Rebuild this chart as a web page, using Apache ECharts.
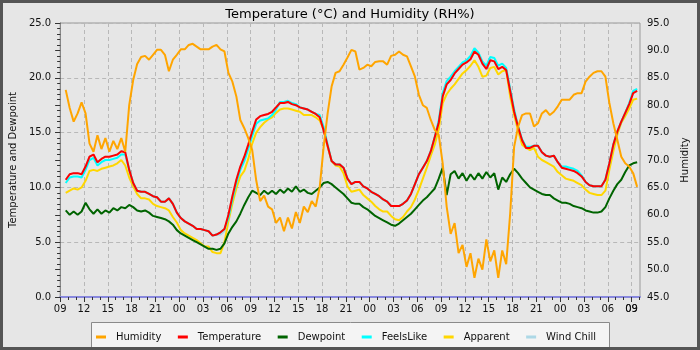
<!DOCTYPE html>
<html>
<head>
<meta charset="utf-8">
<title>Temperature and Humidity</title>
<script src="https://cdn.jsdelivr.net/npm/echarts@6/dist/echarts.min.js"></script>
<style>
  html, body { margin: 0; padding: 0; background: #e6e6e6; }
  #chart { width: 700px; height: 350px; }
</style>
</head>
<body>
<div id="chart"></div>
<script>
// Readings every half hour, hours counted from 09:00 on the first day
const startHour = 0.7;
const stepHours = 0.5;
const axisEndHour = 73.06;

const hourLabels = ['09','12','15','18','21','00','03','06','09','12','15','18','21','00','03','06','09','12','15','18','21','00','03','06','09'];
const tickHours = hourLabels.map((_, i) => i * 3);
const seriesNames = ['Humidity', 'Temperature', 'Dewpoint', 'FeelsLike', 'Apparent', 'Wind Chill'];

const humidity = [82.8,79.5,77,78.5,80.5,78.5,73,71.5,74.5,72,
  74,71.5,73.5,72,74,71.5,80,84.6,87.5,88.8,
  89,88.3,89.2,90.1,90.1,89.2,86.2,88.3,89.2,90.2,
  90.2,91,91.2,90.7,90.2,90.2,90.2,90.7,91,90.2,
  89.8,85.9,84.3,81.6,77.3,75.8,74,71.8,66.3,62.5,
  63.5,61.5,61,58.5,59.5,57,59.5,57.5,60.5,58.5,
  61.5,60.5,62.5,61.5,65,72.4,78.5,83.4,85.9,86.2,
  87.4,88.7,90.1,89.8,86.5,86.8,87.4,87.1,87.9,88,
  88,87.4,89,89.2,89.8,89.2,88.9,87.1,85.2,81.9,
  80,79.5,77.3,75.5,74.6,69.4,61.5,56.5,58.5,53,
  54.5,50.5,53,48.5,52,50,55.5,51.5,53.5,48.5,
  53.5,51,60.2,72.4,76.1,78.2,78.5,78.5,76.1,76.7,
  78.5,79.1,78.2,78.8,79.8,81,81,81,81.9,82.2,
  82.2,84.3,85.2,85.9,86.2,86.2,85.2,80.4,76.7,73.7,
  70.6,69.4,68.8,67.6,65.1];

const temperature = [10.7,11.2,11.3,11.3,11.2,11.9,12.8,13.0,12.3,12.6,
  12.8,12.8,12.9,13.0,13.3,13.2,11.6,10.4,9.7,9.6,
  9.6,9.4,9.2,9.1,8.7,8.7,9.0,8.5,7.7,7.2,
  6.9,6.7,6.5,6.2,6.2,6.1,6.0,5.6,5.7,5.9,
  6.2,7.5,9.2,10.7,11.9,12.8,13.9,15.1,16.2,16.5,
  16.6,16.7,16.9,17.3,17.7,17.7,17.8,17.6,17.5,17.3,
  17.2,17.1,16.9,16.7,16.4,15.2,13.8,12.4,12.1,12.1,
  11.8,10.8,10.3,10.5,10.5,10.1,9.9,9.6,9.4,9.2,
  8.9,8.7,8.3,8.3,8.3,8.5,8.8,9.4,10.3,11.2,
  11.8,12.4,13.3,14.6,15.9,18.3,19.4,19.8,20.4,20.8,
  21.2,21.4,21.7,22.4,22.1,21.3,20.8,21.6,21.5,20.8,
  21.0,20.7,18.8,16.9,15.5,14.3,13.6,13.6,13.8,13.8,
  13.2,12.9,12.8,12.9,12.3,11.8,11.7,11.6,11.5,11.3,
  11.0,10.5,10.2,10.1,10.1,10.1,10.7,12.2,13.9,15.1,
  16.0,16.8,17.6,18.6,18.8];

const dewpoint = [7.9,7.5,7.8,7.5,7.8,8.6,8.0,7.6,8.0,7.6,
  7.9,7.7,8.1,7.9,8.2,8.1,8.4,8.2,7.9,7.8,
  7.9,7.7,7.4,7.3,7.2,7.1,6.9,6.6,6.1,5.8,
  5.6,5.4,5.2,5.0,4.8,4.6,4.4,4.4,4.3,4.4,
  4.9,5.8,6.4,6.9,7.6,8.4,9.1,9.7,9.5,9.3,
  9.7,9.4,9.7,9.4,9.8,9.5,9.9,9.6,10.1,9.6,
  9.8,9.5,9.4,9.7,10.0,10.4,10.5,10.3,10.0,9.7,
  9.4,9.0,8.6,8.5,8.5,8.2,8.0,7.7,7.4,7.2,
  7.0,6.8,6.6,6.5,6.7,7.0,7.3,7.6,8.0,8.4,
  8.8,9.1,9.5,9.9,10.8,11.8,9.3,11.2,11.5,10.8,
  11.3,10.6,11.2,10.7,11.3,10.8,11.4,10.9,11.3,9.8,
  10.9,10.5,11.2,11.7,11.3,10.8,10.4,10.0,9.8,9.6,
  9.4,9.3,9.3,9.0,8.8,8.6,8.6,8.5,8.3,8.2,
  8.1,7.9,7.8,7.7,7.7,7.8,8.2,9.0,9.7,10.3,
  10.7,11.4,12.0,12.2,12.3];

const feelsLike = [10.4,10.9,11.0,11.0,10.9,11.6,12.5,12.7,12.0,12.3,
  12.5,12.5,12.6,12.7,13.0,13.0,11.6,10.4,9.7,9.6,
  9.6,9.4,9.2,9.1,8.7,8.7,9.0,8.5,7.7,7.2,
  6.9,6.7,6.5,6.2,6.2,6.1,6.0,5.6,5.7,5.9,
  6.2,7.2,8.9,10.4,11.6,12.4,13.5,14.7,15.8,16.1,
  16.2,16.3,16.6,17.1,17.8,17.8,17.9,17.7,17.6,17.3,
  17.2,17.1,16.9,16.7,16.6,15.5,13.9,12.4,12.1,12.1,
  11.8,10.8,10.3,10.5,10.5,10.1,9.9,9.6,9.4,9.2,
  8.9,8.7,8.3,8.3,8.3,8.5,8.8,9.4,10.3,11.2,
  11.8,12.4,13.3,14.6,16.1,18.6,19.7,20.1,20.6,21.0,
  21.4,21.6,22.0,22.7,22.3,21.5,21.1,21.9,21.8,21.1,
  21.3,20.9,19.0,17.1,15.6,14.4,13.7,13.7,13.8,13.8,
  13.2,12.9,12.8,12.9,12.3,11.9,11.9,11.8,11.7,11.5,
  11.1,10.5,10.2,10.1,10.1,10.1,10.7,12.2,13.9,15.1,
  16.0,16.8,17.7,18.8,19.0];

const apparent = [9.5,9.7,9.9,9.8,10.0,10.6,11.5,11.6,11.5,11.7,
  11.8,11.9,12.0,12.2,12.5,12.0,10.9,10.1,9.4,9.0,
  9.0,8.9,8.5,8.3,8.2,8.1,7.9,7.3,6.8,6.1,
  5.8,5.6,5.4,5.2,4.9,4.6,4.6,4.1,4.0,4.0,
  5.0,6.9,8.5,9.9,11.0,11.5,12.6,14.0,15.0,15.5,
  15.9,16.2,16.4,16.8,17.1,17.2,17.2,17.1,17.0,16.9,
  16.6,16.6,16.6,16.4,16.1,15.3,13.7,12.4,12.0,11.9,
  11.3,10.1,9.6,9.7,9.8,9.3,9.0,8.7,8.3,8.0,
  7.8,7.8,7.4,7.1,7.0,7.3,7.8,8.2,8.9,9.8,
  10.8,11.8,12.9,13.9,15.3,17.7,18.5,19.0,19.4,19.9,
  20.4,20.7,21.1,21.6,21.0,20.1,20.2,20.9,21.0,20.3,
  20.6,20.7,18.3,16.6,15.2,13.9,13.6,13.4,13.6,12.8,
  12.5,12.3,12.1,11.9,11.4,11.1,10.8,10.7,10.6,10.4,
  10.2,9.8,9.5,9.4,9.3,9.3,9.7,11.6,13.3,14.8,
  15.9,16.5,17.2,18.0,18.1];

const windChill = [10.7,11.2,11.3,11.3,11.2,11.9,12.8,13.0,12.3,12.6,
  12.8,12.8,12.9,13.0,13.3,13.2,11.6,10.4,9.7,9.6,
  9.6,9.4,9.2,9.1,8.7,8.7,9.0,8.5,7.7,7.2,
  6.9,6.7,6.5,6.2,6.2,6.1,6.0,5.6,5.7,5.7,
  6.0,7.5,9.2,10.7,11.9,12.8,13.9,15.1,16.2,16.5,
  16.6,16.7,16.9,17.3,17.7,17.7,17.8,17.6,17.5,17.3,
  17.2,17.1,16.9,16.7,16.4,15.2,13.8,12.4,12.1,12.1,
  11.8,10.8,10.3,10.5,10.5,10.1,9.9,9.6,9.4,9.2,
  8.9,8.7,8.3,8.3,8.3,8.5,8.8,9.4,10.3,11.2,
  11.8,12.4,13.3,14.6,15.9,18.3,19.4,19.8,20.4,20.8,
  21.2,21.4,21.7,22.4,22.1,21.3,20.8,21.6,21.5,20.8,
  21.0,20.7,18.8,16.9,15.5,14.3,13.6,13.6,13.8,13.8,
  13.2,12.9,12.8,12.9,12.3,11.8,11.7,11.6,11.5,11.3,
  11.0,10.5,10.2,10.1,10.1,10.1,10.7,12.2,13.9,15.1,
  16.0,16.8,17.6,18.6,18.8];

const colors = {
  'Humidity': '#ffa500',
  'Temperature': '#ff0000',
  'Dewpoint': '#006400',
  'FeelsLike': '#00ffff',
  'Apparent': '#ffd700',
  'Wind Chill': '#add8e6'
};

const FONT = 'DejaVu Sans';

function pairs(values) {
  return values.map((v, i) => [startHour + i * stepHours, v]);
}

function lineSeries(name, values, yAxisIndex) {
  return {
    name: name,
    type: 'line',
    xAxisIndex: 0,
    yAxisIndex: yAxisIndex,
    data: pairs(values),
    showSymbol: false,
    symbol: 'none',
    animation: false,
    itemStyle: { color: colors[name] },
    lineStyle: { color: colors[name], width: 2 },
    emphasis: { disabled: true }
  };
}

function hourLabel(v) {
  const idx = Math.round(v / 3);
  return hourLabels[idx] !== undefined ? hourLabels[idx] : '';
}

const labelStyle = { fontFamily: FONT, fontSize: 10, color: '#111' };

const chart = echarts.init(document.getElementById('chart'), null, { renderer: 'canvas' });

const option = {
  backgroundColor: '#e6e6e6',
  animation: false,
  textStyle: { fontFamily: FONT },
  title: {
    text: 'Temperature (°C) and Humidity (RH%)',
    left: 'center',
    top: 3,
    textStyle: { fontFamily: FONT, fontSize: 13, fontWeight: 'normal', color: '#000' }
  },
  graphic: [
    {
      type: 'rect', z: 0, silent: true,
      shape: { x: 91.5, y: 322.5, width: 518, height: 25 },
      style: { fill: '#f4f4f4', stroke: '#8a8a8a', lineWidth: 1 }
    },
    {
      type: 'rect', z: 100, silent: true,
      shape: { x: 1.5, y: 1.5, width: 697, height: 347 },
      style: { fill: null, stroke: '#555555', lineWidth: 3 }
    }
  ],
  legend: {
    data: seriesNames,
    left: 96,
    top: 332,
    padding: 0,
    itemGap: 16.5,
    itemWidth: 10,
    itemHeight: 3,
    icon: 'rect',
    selectedMode: false,
    textStyle: { fontFamily: FONT, fontSize: 10, color: '#111', padding: [0, 0, 0, 5] }
  },
  grid: {
    left: 55, right: 60, top: 23, bottom: 53,
    show: true,
    backgroundColor: 'transparent',
    borderColor: '#999',
    borderWidth: 1
  },
  xAxis: [
    {
      type: 'value',
      min: 0,
      max: axisEndHour,
      interval: 3,
      axisLine: { show: true, onZero: false, lineStyle: { color: '#8888dd', width: 2 } },
      axisTick: { show: true, length: 5, customValues: tickHours, lineStyle: { color: '#333' } },
      minorTick: { show: true, splitNumber: 3, length: 3, lineStyle: { color: '#333' } },
      axisLabel: Object.assign({}, labelStyle, {
        margin: 7,
        hideOverlap: false,
        showMinLabel: true,
        showMaxLabel: true,
        customValues: tickHours,
        alignMinLabel: 'center',
        alignMaxLabel: 'center',
        formatter: hourLabel
      }),
      splitLine: { show: true, lineStyle: { color: '#b8b8b8', type: [4, 3], width: 1 } }
    },
    {
      // carries only the closing 09 label at the right end of the time axis
      type: 'value',
      position: 'bottom',
      min: 0,
      max: axisEndHour,
      axisLine: { show: false, onZero: false },
      axisTick: { show: false },
      splitLine: { show: false },
      axisLabel: Object.assign({}, labelStyle, {
        margin: 7,
        hideOverlap: false,
        showMinLabel: true,
        showMaxLabel: true,
        customValues: [tickHours[tickHours.length - 1]],
        formatter: hourLabel
      })
    }
  ],
  yAxis: [
    {
      type: 'value',
      position: 'left',
      min: 0, max: 25, interval: 5,
      name: 'Temperature and Dewpoint',
      nameLocation: 'middle',
      nameRotate: 90,
      nameGap: 31,
      nameTextStyle: { fontFamily: FONT, fontSize: 10, color: '#111' },
      axisLine: { show: true, lineStyle: { color: '#888' } },
      axisTick: { show: true, length: 5, lineStyle: { color: '#333' } },
      minorTick: { show: true, splitNumber: 5, length: 3, lineStyle: { color: '#333' } },
      axisLabel: Object.assign({}, labelStyle, { margin: 9, formatter: v => v.toFixed(1) }),
      splitLine: { show: true, lineStyle: { color: '#b8b8b8', type: [4, 3], width: 1 } }
    },
    {
      type: 'value',
      position: 'right',
      min: 45, max: 95, interval: 5,
      name: 'Humidity',
      nameLocation: 'middle',
      nameRotate: 90,
      nameGap: 38,
      nameTextStyle: { fontFamily: FONT, fontSize: 10, color: '#111' },
      axisLine: { show: true, lineStyle: { color: '#888' } },
      axisTick: { show: true, inside: true, length: 5, lineStyle: { color: '#333' } },
      minorTick: { show: true, splitNumber: 5, length: 3, lineStyle: { color: '#333' } },
      axisLabel: Object.assign({}, labelStyle, { margin: 7, formatter: v => v.toFixed(1) }),
      splitLine: { show: false }
    }
  ],
  // drawn bottom to top: wind chill first, humidity last
  series: [
    lineSeries('Wind Chill', windChill, 0),
    lineSeries('Apparent', apparent, 0),
    lineSeries('FeelsLike', feelsLike, 0),
    lineSeries('Dewpoint', dewpoint, 0),
    lineSeries('Temperature', temperature, 0),
    lineSeries('Humidity', humidity, 1)
  ]
};

chart.setOption(option);
</script>
</body>
</html>
